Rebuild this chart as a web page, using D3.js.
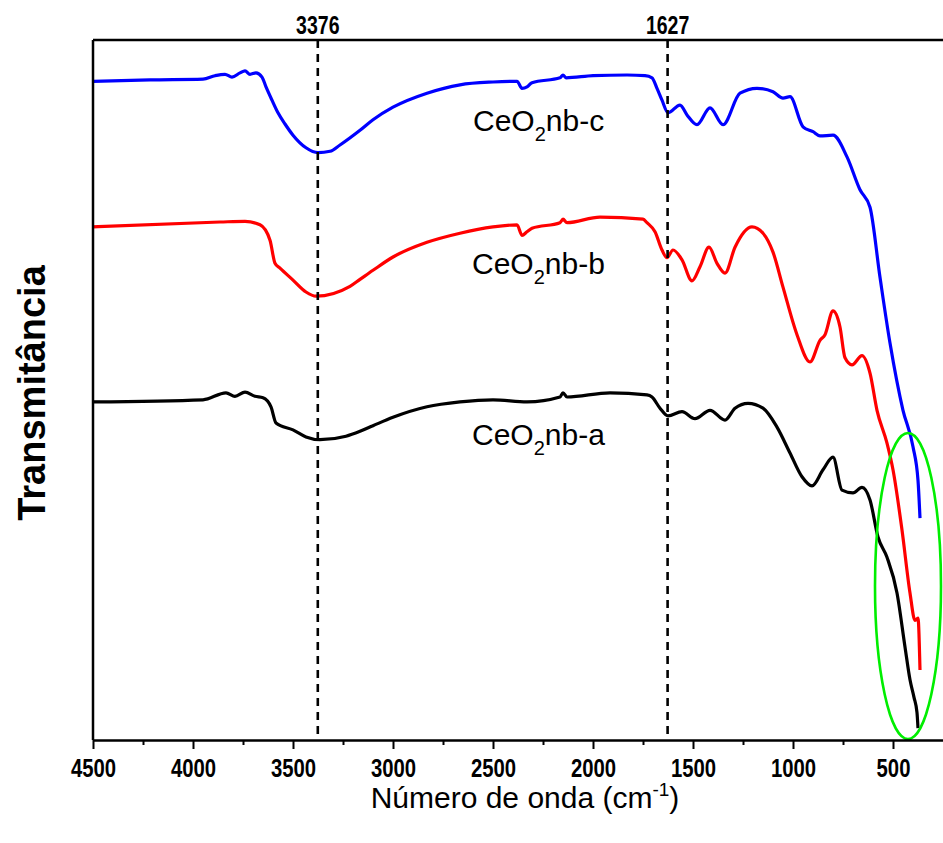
<!DOCTYPE html>
<html>
<head>
<meta charset="utf-8"/>
<style>
    body{ margin:0; background:#fff; }
    svg{ display:block; }
    text{ font-family: "Liberation Sans", Arial, sans-serif; fill:#000; }
    .tick-lbl{ font-weight:bold; font-size:25px; }
    .curve{ fill:none; stroke-width:3.2; stroke-linejoin:round; }
</style>
</head>
<body>
<svg id="graph"></svg>
<script src="https://d3js.org/d3.v7.min.js"></script>
<script>
// wavenumber (cm-1) and transmittance (a.u.)
const waveC = [4500,4215,3950,3890,3840,3805,3765,3740,3715,3685,3655,3635,3605,3575,3540,3500,3435,3375,3315,3265,3165,3100,3000,2830,2665,2500,2380,2355,2330,2305,2165,2150,2135,2000,1830,1740,1705,1680,1655,1625,1565,1530,1480,1415,1350,1265,1180,1100,1050,1015,950,900,865,800,730,665,615,565,515,450,400,375,365];
const transC = [94.1,94.3,94.4,94.9,95.1,94.7,95.3,95.6,95.1,95.3,94.7,93.3,91.4,89.6,88.0,86.4,84.6,83.9,84.1,85.0,87.1,88.6,90.4,92.4,93.6,94.0,94.1,93.1,93.3,93.9,94.6,95.0,94.6,94.9,95.0,94.9,94.6,93.1,91.4,89.6,90.7,89.3,87.9,90.3,87.9,92.4,93.1,92.6,91.7,91.9,87.6,86.9,86.3,86.4,83.3,78.6,76.1,66.1,56.7,47.1,41.9,37.1,31.7];

const waveB = [4500,3865,3740,3665,3615,3590,3565,3500,3435,3385,3215,3165,3100,3000,2830,2665,2500,2380,2355,2330,2305,2165,2150,2130,1965,1750,1730,1690,1655,1630,1600,1555,1505,1465,1420,1380,1340,1290,1205,1150,1100,1050,980,915,865,840,800,765,740,705,655,615,580,530,500,455,415,390,375,365];
const transB = [73.3,74.0,74.1,73.6,71.4,68.1,67.4,65.7,64.0,63.4,64.8,65.8,67.1,69.0,71.1,72.4,73.3,73.6,72.1,72.6,73.1,73.9,74.4,73.9,74.7,74.4,73.9,72.6,70.0,68.9,70.0,68.6,65.6,67.6,70.4,68.1,66.7,70.4,73.3,72.4,69.7,64.7,57.9,54.0,57.1,57.9,61.3,59.0,54.6,53.6,54.9,52.4,47.1,42.4,38.6,30.0,21.0,17.1,17.4,10.0];

const waveA = [4500,3950,3835,3790,3740,3690,3650,3610,3585,3500,3435,3365,3235,3165,3100,3000,2830,2665,2500,2330,2165,2150,2130,1915,1730,1705,1665,1625,1555,1490,1415,1340,1290,1225,1150,1080,1015,955,905,850,800,755,700,655,615,575,530,480,440,415,395,380,375];
const transA = [48.3,48.6,49.6,49.1,49.7,49.1,48.9,47.6,45.3,44.3,43.3,42.9,43.4,44.1,44.9,46.1,47.6,48.3,48.6,48.3,49.0,49.6,49.0,49.6,49.3,49.0,47.4,46.3,46.9,45.9,47.1,45.7,47.4,48.1,47.4,44.7,41.0,37.6,36.3,38.6,40.4,35.7,35.3,36.1,34.3,29.0,26.1,21.0,13.3,8.6,6.1,3.9,1.7];

const seriesNames = ['CeO2nb-c','CeO2nb-b','CeO2nb-a'];
const seriesColors = ['#0000ff','#ff0000','#000000'];
const labelPos = [[2600,87.0],[2605,66.6],[2605,42.1]]; // [wavenumber, transmittance] of label start

const xTicks = [4500,4000,3500,3000,2500,2000,1500,1000,500];
const peakLines = [3376,1627];

var width = 943, height = 843;
var plotLeft = 93, plotTop = 40, plotBottom = 740;

var svg = d3.select('#graph').attr('width', width).attr('height', height);

var x = d3.scaleLinear().domain([4500,250]).range([plotLeft,width]);
var y = d3.scaleLinear().domain([0,100]).range([plotBottom,plotTop]);

// curves
var line = d3.line()
    .x(function(d){ return x(d[0]); })
    .y(function(d){ return y(d[1]); })
    .curve(d3.curveMonotoneX);

var allSeries = [d3.zip(waveC,transC), d3.zip(waveB,transB), d3.zip(waveA,transA)];

svg.append('g').selectAll('path')
    .data(allSeries)
    .enter().append('path')
    .attr('class','curve')
    .attr('stroke', function(d,i){ return seriesColors[i]; })
    .attr('d', line);

// dashed peak markers
svg.append('g').selectAll('line')
    .data(peakLines)
    .enter().append('line')
    .attr('x1', function(d){ return x(d); })
    .attr('x2', function(d){ return x(d); })
    .attr('y1', plotTop).attr('y2', plotBottom)
    .attr('stroke','#000').attr('stroke-width',2.6)
    .attr('stroke-dasharray','8,6');

svg.append('g').selectAll('text')
    .data(peakLines)
    .enter().append('text')
    .attr('class','tick-lbl')
    .attr('text-anchor','middle')
    .attr('transform', function(d){ return 'translate('+x(d)+',34) scale(0.78,1)'; })
    .text(function(d){ return d; });

// series labels with subscript 2
var lbl = svg.append('g').selectAll('text')
    .data(seriesNames)
    .enter().append('text')
    .attr('x', function(d,i){ return x(labelPos[i][0]); })
    .attr('y', function(d,i){ return y(labelPos[i][1]); })
    .style('font-size','30px');
lbl.append('tspan').text('CeO');
lbl.append('tspan').attr('dy',10).style('font-size','20px').text('2');
lbl.append('tspan').attr('dy',-10).text(function(d){ return d.slice(4); });

// green highlight ellipse
svg.append('ellipse')
    .attr('cx', x(425)).attr('cy', y(22))
    .attr('rx', 33).attr('ry', 153)
    .attr('fill','none').attr('stroke','#00ee00').attr('stroke-width',2.6);

// frame
svg.append('line').attr('x1',plotLeft).attr('x2',width).attr('y1',plotTop).attr('y2',plotTop)
    .attr('stroke','#000').attr('stroke-width',2.5);
svg.append('line').attr('x1',plotLeft).attr('x2',plotLeft).attr('y1',plotTop).attr('y2',plotBottom)
    .attr('stroke','#000').attr('stroke-width',2.5);
svg.append('line').attr('x1',plotLeft).attr('x2',plotLeft+7).attr('y1',y(48.3)).attr('y2',y(48.3))
    .attr('stroke','#000').attr('stroke-width',2);

// x axis: minor ticks then major ticks with labels
svg.append('g')
    .attr('transform','translate(0,'+plotBottom+')')
    .call(d3.axisBottom(x).tickValues(d3.range(4250,250,-500)).tickSize(5).tickFormat(''))
    .call(function(g){ g.select('.domain').remove(); g.selectAll('line').attr('stroke-width',2); });

var xAxis = svg.append('g')
    .attr('transform','translate(0,'+plotBottom+')')
    .call(d3.axisBottom(x).tickValues(xTicks).tickFormat(d3.format('d'))
        .tickSize(9).tickSizeOuter(0).tickPadding(10));
xAxis.select('.domain').attr('stroke-width',2.5);
xAxis.selectAll('line').attr('stroke-width',2);
xAxis.selectAll('text')
    .attr('class','tick-lbl')
    .attr('transform','scale(0.78,1)')
    .style('font-size','26px');

// axis titles
var xt = svg.append('text')
    .attr('x', 525).attr('y', 808)
    .attr('text-anchor','middle')
    .style('font-size','30px');
xt.append('tspan').text('Número de onda (cm');
xt.append('tspan').attr('dy',-12).style('font-size','19px').text('-1');
xt.append('tspan').attr('dy',12).text(')');

svg.append('text')
    .attr('transform','translate(45,393) rotate(-90)')
    .attr('text-anchor','middle')
    .style('font-size','38px')
    .style('font-weight','bold')
    .text('Transmitância');
</script>
</body>
</html>
